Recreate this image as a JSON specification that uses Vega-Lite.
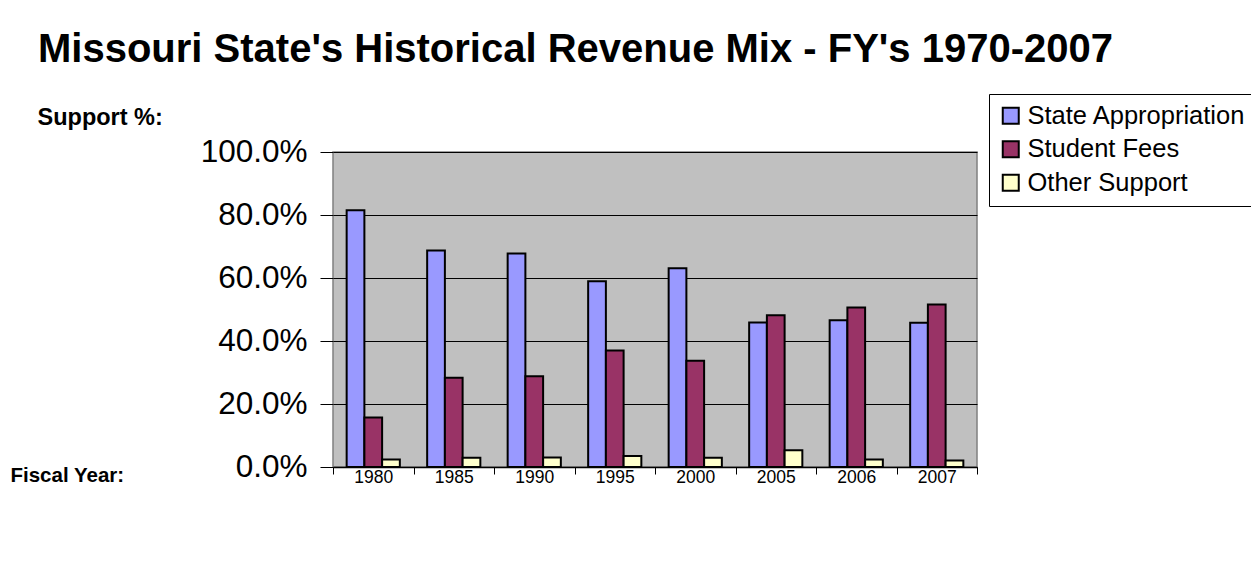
{
  "$schema": "https://vega.github.io/schema/vega-lite/v6.json",
  "autosize": {"type": "none"},
  "padding": {"left": 333, "top": 152, "right": 274, "bottom": 115},
  "width": 644,
  "height": 315,
  "background": "white",
  "title": {
    "text": "Missouri State's Historical Revenue Mix - FY's 1970-2007",
    "font": "Liberation Sans",
    "fontSize": 40,
    "fontWeight": "bold",
    "color": "black",
    "anchor": "start",
    "frame": "group",
    "dx": -295,
    "dy": 38,
    "baseline": "alphabetic",
    "offset": 30
  },
  "config": {
    "font": "Liberation Sans",
    "view": {"fill": "#C0C0C0", "stroke": "#808080", "strokeWidth": 1.5}
  },
  "data": {
    "values": [
      {"year": "1980", "source": "State Appropriation", "value": 0.815},
      {"year": "1980", "source": "Student Fees", "value": 0.157},
      {"year": "1980", "source": "Other Support", "value": 0.024},
      {"year": "1985", "source": "State Appropriation", "value": 0.687},
      {"year": "1985", "source": "Student Fees", "value": 0.283},
      {"year": "1985", "source": "Other Support", "value": 0.029},
      {"year": "1990", "source": "State Appropriation", "value": 0.678},
      {"year": "1990", "source": "Student Fees", "value": 0.288},
      {"year": "1990", "source": "Other Support", "value": 0.030},
      {"year": "1995", "source": "State Appropriation", "value": 0.590},
      {"year": "1995", "source": "Student Fees", "value": 0.370},
      {"year": "1995", "source": "Other Support", "value": 0.035},
      {"year": "2000", "source": "State Appropriation", "value": 0.631},
      {"year": "2000", "source": "Student Fees", "value": 0.337},
      {"year": "2000", "source": "Other Support", "value": 0.029},
      {"year": "2005", "source": "State Appropriation", "value": 0.459},
      {"year": "2005", "source": "Student Fees", "value": 0.482},
      {"year": "2005", "source": "Other Support", "value": 0.053},
      {"year": "2006", "source": "State Appropriation", "value": 0.466},
      {"year": "2006", "source": "Student Fees", "value": 0.506},
      {"year": "2006", "source": "Other Support", "value": 0.024},
      {"year": "2007", "source": "State Appropriation", "value": 0.458},
      {"year": "2007", "source": "Student Fees", "value": 0.516},
      {"year": "2007", "source": "Other Support", "value": 0.021}
    ]
  },
  "mark": {"type": "bar", "stroke": "black", "strokeWidth": 2, "strokeJoin": "miter"},
  "encoding": {
    "x": {
      "field": "year",
      "type": "nominal",
      "sort": null,
      "scale": {"paddingInner": 0, "paddingOuter": 0},
      "axis": {
        "title": "Fiscal Year:",
        "titleFont": "Liberation Sans",
        "titleFontSize": 20.5,
        "titleFontWeight": "bold",
        "titleColor": "black",
        "titleAngle": 0,
        "titleAlign": "left",
        "titleBaseline": "middle",
        "titleX": -323,
        "titleY": 8,
        "labelAngle": 0,
        "labelFontSize": 17.5,
        "labelColor": "black",
        "labelPadding": -6,
        "labelBaseline": "top",
        "tickBand": "extent",
        "tickSize": 7,
        "tickColor": "black",
        "tickWidth": 1,
        "domainColor": "black",
        "domainWidth": 1.5,
        "grid": false
      }
    },
    "xOffset": {
      "field": "source",
      "type": "nominal",
      "sort": ["State Appropriation", "Student Fees", "Other Support"],
      "scale": {"paddingInner": 0, "paddingOuter": 0.77}
    },
    "y": {
      "field": "value",
      "type": "quantitative",
      "scale": {"domain": [0, 1], "nice": false},
      "axis": {
        "title": "Support %:",
        "titleFont": "Liberation Sans",
        "titleFontSize": 23.5,
        "titleFontWeight": "bold",
        "titleColor": "black",
        "titleAngle": 0,
        "titleAlign": "left",
        "titleBaseline": "middle",
        "titleX": -296,
        "titleY": -35,
        "format": ".1%",
        "values": [0, 0.2, 0.4, 0.6, 0.8, 1],
        "labelFontSize": 31.5,
        "labelColor": "black",
        "labelPadding": 13,
        "tickSize": 13,
        "tickColor": "black",
        "tickWidth": 1,
        "domain": false,
        "grid": true,
        "gridColor": "black",
        "gridWidth": 1,
        "gridOpacity": 1
      }
    },
    "color": {
      "field": "source",
      "type": "nominal",
      "sort": ["State Appropriation", "Student Fees", "Other Support"],
      "scale": {
        "domain": ["State Appropriation", "Student Fees", "Other Support"],
        "range": ["#9999FF", "#993366", "#FFFFCC"]
      },
      "legend": {
        "title": null,
        "orient": "none",
        "legendX": 656,
        "legendY": -58,
        "strokeColor": "black",
        "fillColor": "white",
        "padding": 9,
        "symbolType": "square",
        "symbolSize": 256,
        "symbolStrokeColor": "black",
        "symbolStrokeWidth": 2,
        "symbolOpacity": 1,
        "labelFontSize": 25.5,
        "labelColor": "black",
        "labelOffset": 4,
        "rowPadding": 6.5,
        "labelLimit": 400
      }
    }
  }
}
